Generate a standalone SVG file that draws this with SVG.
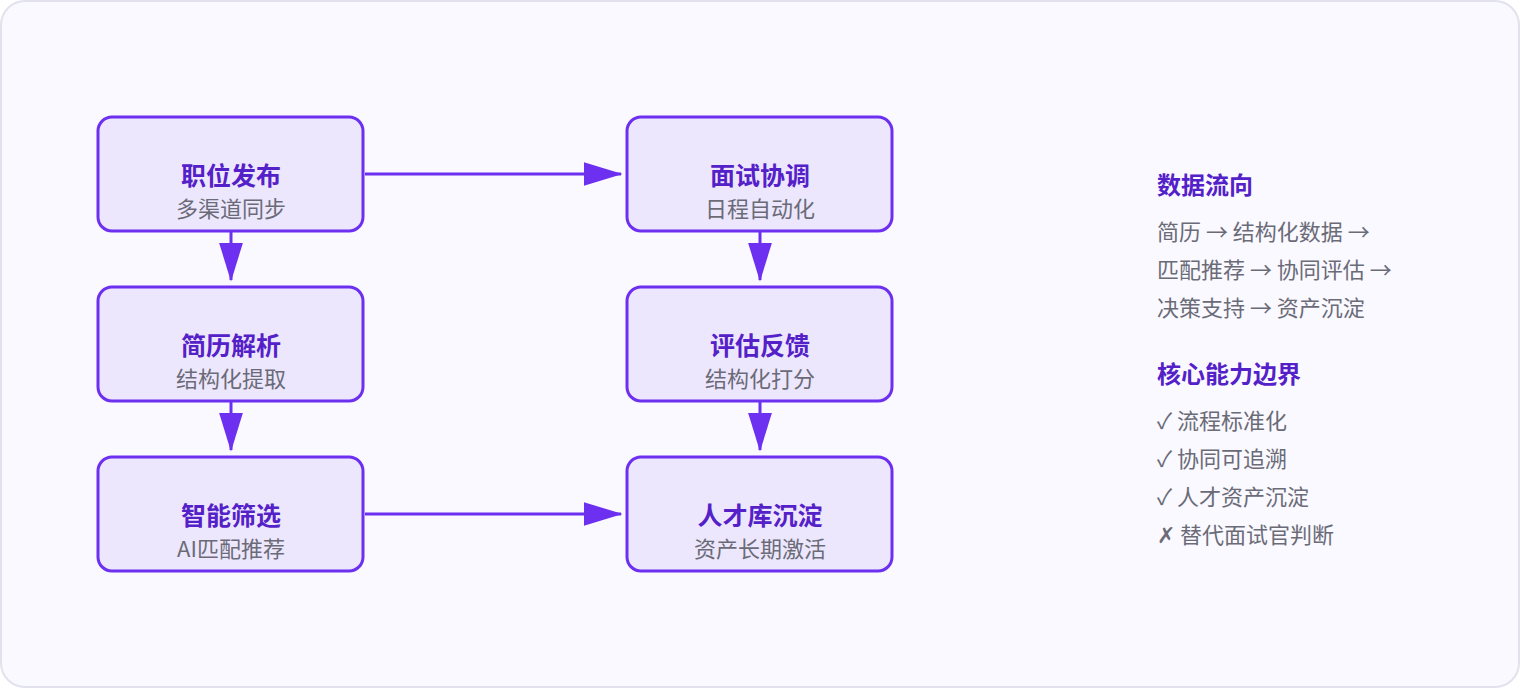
<svg xmlns="http://www.w3.org/2000/svg" width="1520" height="690" viewBox="0 0 1520 690">
<style>
.node rect{fill:#ece7fd;stroke:#6d2ff0;stroke-width:3}
.t{font-family:"Noto Sans CJK SC","Noto Sans",sans-serif;font-size:25px;font-weight:700;fill:#5420c8;text-anchor:middle}
.s{font-family:"Noto Sans CJK SC","Noto Sans",sans-serif;font-size:22px;fill:#6b6b78;text-anchor:middle}
.h{font-family:"Noto Sans CJK SC","Noto Sans",sans-serif;font-size:24px;font-weight:700;fill:#5420c8}
.l{font-family:"Noto Sans CJK SC","Noto Sans",sans-serif;font-size:22px;fill:#6b6b78}
.e{stroke:#6d2ff0;stroke-width:3;fill:none;marker-end:url(#a)}
</style>
<defs><marker id="a" markerWidth="13" markerHeight="8" refX="12.5" refY="4" orient="auto" markerUnits="strokeWidth"><path d="M0,0L13,4L0,8z" fill="#6d2ff0"/></marker></defs>
<rect x="1" y="1" width="1518" height="686" rx="24" fill="#f9f9ff" stroke="#e2e2ee" stroke-width="2"/>
<g id="connectors">
<path class="e" d="M365,174H621"/>
<path class="e" d="M231,232V280"/>
<path class="e" d="M231,402V450"/>
<path class="e" d="M760,232V280"/>
<path class="e" d="M760,402V450"/>
<path class="e" d="M365,514H621"/>
</g>
<g id="n1" class="node"><rect x="98" y="117" width="265" height="114" rx="14"/><text class="t" x="231" y="185">职位发布</text><text class="s" x="231" y="217">多渠道同步</text></g>
<g id="n2" class="node"><rect x="98" y="287" width="265" height="114" rx="14"/><text class="t" x="231" y="355">简历解析</text><text class="s" x="231" y="387">结构化提取</text></g>
<g id="n3" class="node"><rect x="98" y="457" width="265" height="114" rx="14"/><text class="t" x="231" y="525">智能筛选</text><text class="s" x="231" y="557">AI匹配推荐</text></g>
<g id="n4" class="node"><rect x="627" y="117" width="265" height="114" rx="14"/><text class="t" x="760" y="185">面试协调</text><text class="s" x="760" y="217">日程自动化</text></g>
<g id="n5" class="node"><rect x="627" y="287" width="265" height="114" rx="14"/><text class="t" x="760" y="355">评估反馈</text><text class="s" x="760" y="387">结构化打分</text></g>
<g id="n6" class="node"><rect x="627" y="457" width="265" height="114" rx="14"/><text class="t" x="760" y="525">人才库沉淀</text><text class="s" x="760" y="557">资产长期激活</text></g>
<g id="legend">
<text class="h" x="1157" y="194">数据流向</text>
<text class="l" x="1157" y="240">简历 → 结构化数据 →</text>
<text class="l" x="1157" y="278">匹配推荐 → 协同评估 →</text>
<text class="l" x="1157" y="316">决策支持 → 资产沉淀</text>
<text class="h" x="1157" y="383">核心能力边界</text>
<text class="l" x="1157" y="429">✓ 流程标准化</text>
<text class="l" x="1157" y="467">✓ 协同可追溯</text>
<text class="l" x="1157" y="505">✓ 人才资产沉淀</text>
<text class="l" x="1157" y="543">✗ 替代面试官判断</text>
</g>
</svg>
